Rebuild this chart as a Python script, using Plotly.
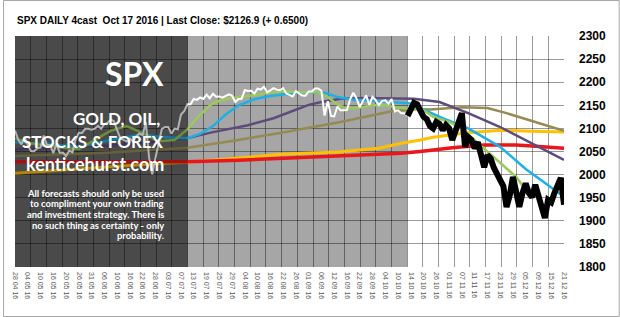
import plotly.graph_objects as go

# ---------------- data ----------------
x_labels = ["28 04 16", "04 05 16", "10 05 16", "16 05 16", "20 05 16", "26 05 16", "31 05 16",
            "06 06 16", "10 06 16", "16 06 16", "22 06 16", "28 06 16", "03 07 16", "07 07 16",
            "13 07 16", "19 07 16", "25 07 16", "29 07 16", "04 08 16", "10 08 16", "16 08 16",
            "22 08 16", "26 08 16", "01 09 16", "06 09 16", "12 09 16", "16 09 16", "22 09 16",
            "28 09 16", "04 10 16", "10 10 16", "14 10 16", "20 10 16", "26 10 16", "01 11 16",
            "07 11 16", "11 11 16", "17 11 16", "23 11 16", "29 11 16", "05 12 16", "09 12 16",
            "15 12 16", "21 12 16"]
label_step = 4

# daily closes (history)
spx_close = [2095.2, 2075.8, 2065.3, 2081.4, 2063.4, 2051.1, 2050.6, 2057.1, 2058.7, 2084.4,
             2064.5, 2064.1, 2046.6, 2066.7, 2047.2, 2047.6, 2040.0, 2052.3, 2048.0, 2076.1,
             2090.5, 2090.1, 2099.1, 2099.1, 2097.0, 2099.3, 2105.3, 2099.1, 2109.4, 2112.1,
             2119.1, 2115.5, 2096.1, 2079.1, 2075.3, 2071.5, 2078.0, 2071.2, 2083.3, 2088.9,
             2085.5, 2113.3, 2037.4, 2000.5, 2036.1, 2070.8, 2098.9, 2103.0, 2103.0, 2088.6,
             2099.7, 2097.9, 2129.9, 2137.2, 2152.1, 2152.4, 2163.8, 2161.7, 2166.9, 2163.8,
             2173.0, 2165.2, 2175.0, 2168.5, 2169.2, 2166.6, 2170.1, 2173.6, 2170.8, 2157.0,
             2163.8, 2164.3, 2182.9, 2180.9, 2181.7, 2175.5, 2185.8, 2184.1, 2190.2, 2178.2,
             2182.2, 2187.0, 2183.9, 2182.6, 2186.9, 2175.4, 2172.5, 2169.0, 2180.4, 2176.1,
             2171.0, 2170.9, 2180.0, 2180.0, 2186.5, 2186.2, 2181.3, 2127.8, 2159.0, 2127.0,
             2125.8, 2147.3, 2139.2, 2139.1, 2139.8, 2163.1, 2177.2, 2164.7, 2146.1, 2159.9,
             2171.4, 2151.1, 2168.3, 2161.2, 2150.5, 2159.7, 2160.8, 2153.7, 2163.7, 2136.7,
             2139.2, 2132.6, 2133.0, 2126.9]

# forecast (starts at last close)
forecast_start = 123
forecast = [2127, 2140, 2155, 2152, 2140, 2125, 2120, 2105, 2100, 2114,
            2110, 2096, 2107, 2100, 2075, 2095, 2118, 2133, 2060, 2081,
            2075, 2057, 2070, 2040, 2016, 2042, 2035, 2015, 2003, 1990,
            1975, 1930, 1955, 1995, 1960, 1930, 1960, 1981, 1960, 1951,
            1978, 1950, 1925, 1906, 1945, 1940, 1960, 1975, 1993, 1935]

# moving averages (day index, value)
green_idx = [0, 5, 10, 15, 20, 25, 30, 35, 40, 45, 50, 54, 58, 62, 66, 70, 75, 80, 85, 90, 95, 98,
             101, 104, 108, 112, 116, 120, 124, 127, 131, 136, 140, 145, 150, 153, 157, 160, 163]
green_val = [2078, 2068, 2062, 2058, 2055, 2075, 2095, 2105, 2090, 2072, 2075, 2098, 2130, 2155,
             2163, 2168, 2172, 2178, 2180, 2178, 2178, 2168, 2152, 2142, 2145, 2150, 2150, 2145,
             2142, 2144, 2125, 2114, 2100, 2068, 2038, 2021, 1995, 1967, 1955]

blue_idx = [0, 10, 20, 30, 40, 45, 50, 54, 58, 62, 66, 70, 75, 80, 90, 97, 101, 106, 112, 118,
            124, 127, 134, 142, 152, 160, 166, 172]
blue_val = [2070, 2066, 2060, 2075, 2088, 2082, 2080, 2079, 2088, 2105, 2130, 2150, 2163, 2170,
            2178, 2177, 2168, 2162, 2160, 2157, 2154, 2144, 2122, 2100, 2060, 2012, 1982, 1952]

purple_idx = [0, 10, 20, 30, 40, 50, 54, 62, 73, 81, 88, 92, 96, 102, 110, 118, 125, 133, 142,
              152, 162, 172]
purple_val = [2055, 2058, 2060, 2063, 2068, 2075, 2079, 2092, 2107, 2122, 2140, 2151, 2157, 2164,
              2166, 2165, 2164, 2157, 2133, 2103, 2068, 2032]

tan_idx = [0, 10, 20, 30, 40, 50, 54, 70, 83, 102, 118, 125, 130, 140, 148, 154, 164, 172]
tan_val = [2040, 2042, 2045, 2048, 2052, 2056, 2058, 2075, 2090, 2114, 2137, 2142, 2141, 2146,
           2144, 2133, 2112, 2095]

yellow_idx = [0, 10, 20, 30, 45, 54, 64, 74, 83, 101, 114, 121, 127, 131, 141, 152, 162, 172]
yellow_val = [2003, 2008, 2013, 2018, 2024, 2027, 2032, 2038, 2044, 2049, 2057, 2068, 2075, 2081,
              2090, 2096, 2094, 2092]

red_idx = [0, 20, 40, 54, 70, 90, 110, 121, 127, 137, 147, 157, 162, 172]
red_val = [2028, 2028, 2028, 2028, 2031, 2037, 2042, 2046, 2050, 2058, 2064, 2064, 2062, 2057]

y_ticks = [1800, 1850, 1900, 1950, 2000, 2050, 2100, 2150, 2200, 2250, 2300]

title_text = "SPX DAILY 4cast\u00a0 Oct 17 2016 | Last Close: $2126.9 (+ 0.6500)"
disclaimer = ["All forecasts should only be used", "to compliment your own trading",
              "and investment strategy. There is", "no such thing as certainty - only",
              "probability."]

# ---------------- figure ----------------
n_last = label_step * (len(x_labels) - 1)
fig = go.Figure()

def add_line(xs, ys, color, width):
    fig.add_trace(go.Scatter(x=xs, y=ys, mode="lines",
                             line=dict(color=color, width=width),
                             hoverinfo="skip", showlegend=False))

add_line(yellow_idx, yellow_val, "#ffc000", 3)
add_line(red_idx, red_val, "#e8171b", 3.5)
add_line(tan_idx, tan_val, "#948a54", 2.5)
add_line(purple_idx, purple_val, "#5f4b7b", 2.5)
add_line(blue_idx, blue_val, "#1cb0e6", 2.5)
add_line(green_idx, green_val, "#9bc95a", 2.5)
add_line(list(range(len(spx_close))), spx_close, "#ffffff", 2)
add_line(list(range(forecast_start, forecast_start + len(forecast))), forecast, "#000000", 6)

grid_color = "rgba(0,0,0,0.4)"

fig.update_layout(
    width=620, height=317,
    margin=dict(l=12, r=56, t=36, b=50),
    paper_bgcolor="white", plot_bgcolor="white",
    title=dict(text="<b>" + title_text + "</b>", x=17 / 620, xanchor="left",
               y=1 - 20 / 317, yanchor="middle", xref="container", yref="container",
               font=dict(family="Liberation Sans, Arial", size=10, color="black")),
    xaxis=dict(range=[0, n_last], tickmode="array",
               tickvals=list(range(0, n_last + 1, label_step)), ticktext=x_labels,
               tickangle=90, showgrid=False, zeroline=False, showline=False, ticks="",
               ticklabelstandoff=4,
               tickfont=dict(family="Liberation Sans, Arial", size=7, color="#595959")),
    xaxis2=dict(overlaying="x", anchor="y", range=[0, 35], dtick=1, tick0=0,
                showgrid=True, gridcolor=grid_color, gridwidth=1, showticklabels=False,
                zeroline=False, showline=False, ticks=""),
    yaxis=dict(range=[1800, 2300], side="right", tickmode="array", tickvals=y_ticks,
               showgrid=True, gridcolor=grid_color, gridwidth=1, zeroline=False,
               showline=False, ticks="", ticklabelstandoff=14,
               tickfont=dict(family="Liberation Sans, Arial", size=12, color="black",
                             weight="bold")),
    shapes=[
        dict(type="rect", xref="x2", yref="paper", x0=0, x1=25, y0=0, y1=1,
             fillcolor="#a6a6a6", line=dict(width=0), layer="below"),
        dict(type="rect", xref="x2", yref="paper", x0=0, x1=11, y0=0, y1=1,
             fillcolor="#6a6a6a", line=dict(width=0), layer="below"),
        dict(type="rect", xref="x2", yref="paper", x0=0, x1=11, y0=0, y1=1,
             fillcolor="black", opacity=0.3, line=dict(width=0), layer="above"),
        dict(type="rect", xref="paper", yref="paper", x0=-11.5 / 552, x1=619.5 / 552 - 12 / 552,
             y0=-49.5 / 231, y1=1 + 35.5 / 231, line=dict(color="#a6a6a6", width=1),
             fillcolor="rgba(0,0,0,0)", layer="below"),
    ],
)

def px_x(px):
    return (px - 12) / 552

def px_y(py):
    return (267 - py) / 231

text_font = "Lato, Open Sans, sans-serif"
ann = [
    ("<b>SPX</b>", 73, 32, 164),
    ("<b>GOLD, OIL,</b>", 118, 17, 160),
    ("<b>STOCKS &amp; FOREX</b>", 141, 17, 164),
    ("<b>kenticehurst.com</b>", 164, 18, 164),
]
for txt, yc, sz, xr in ann:
    fig.add_annotation(text=txt, xref="paper", yref="paper", x=px_x(xr), y=px_y(yc),
                       xanchor="right", yanchor="middle", showarrow=False,
                       font=dict(family=text_font, size=sz, color="white"))

for k, line_txt in enumerate(disclaimer):
    fig.add_annotation(text="<b>" + line_txt + "</b>", xref="paper", yref="paper",
                       x=px_x(164), y=px_y(193 + 10.7 * k), xanchor="right",
                       yanchor="middle", showarrow=False,
                       font=dict(family=text_font, size=9.4, color="white"))

fig.write_html("out.html")
